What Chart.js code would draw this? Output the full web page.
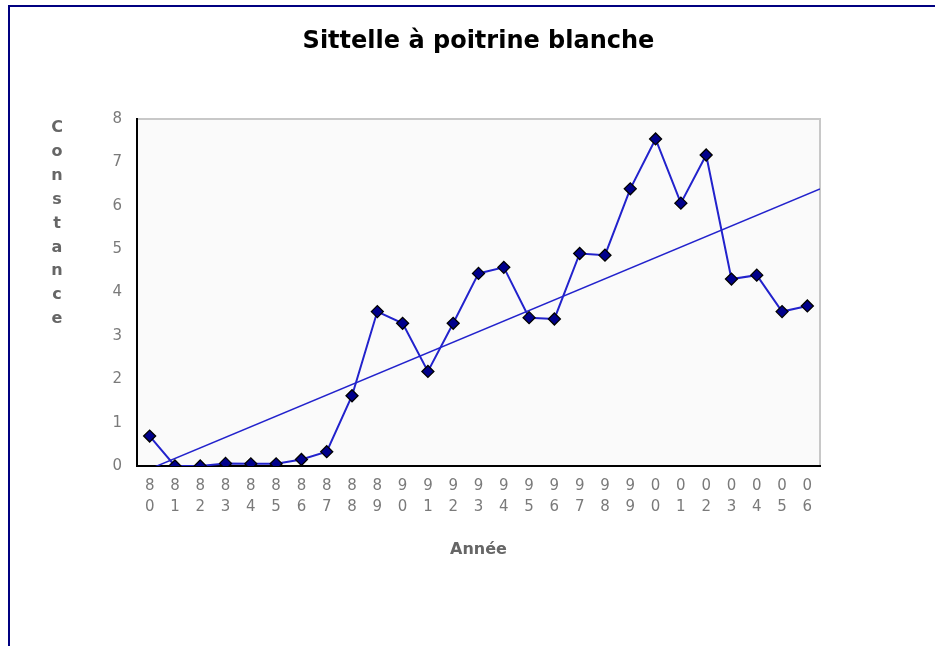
<!DOCTYPE html>
<html>
<head>
<meta charset="utf-8">
<script src="https://cdn.jsdelivr.net/npm/chart.js@4"></script>
<style>
  body { margin: 0; background: #fff; }
  #wrap { position: relative; width: 935px; height: 646px; }
  #frame { position: absolute; left: 8px; top: 5px; right: 0; bottom: 0; border-left: 2px solid #000080; border-top: 2px solid #000080; }
  #chart { position: absolute; left: 0; top: 0; }
</style>
</head>
<body>
<div id="wrap">
  <div id="frame"></div>
  <canvas id="chart" width="935" height="646"></canvas>
</div>
<script>
  // Data
  const years = ["80", "81", "82", "83", "84", "85", "86", "87", "88", "89", "90", "91", "92", "93",
    "94", "95", "96", "97", "98", "99", "00", "01", "02", "03", "04", "05", "06"];
  const constance = [0.69, 0, 0, 0.06, 0.05, 0.05, 0.15, 0.33, 1.62, 3.56, 3.29, 2.18, 3.29, 4.44,
    4.58, 3.42, 3.39, 4.9, 4.86, 6.39, 7.54, 6.06, 7.17, 4.31, 4.4, 3.56, 3.69];
  const trendX = [0, 26.5];
  const trendY = [-0.07, 6.39];
  const yTicks = [0, 1, 2, 3, 4, 5, 6, 7, 8];

  const titleText = "Sittelle à poitrine blanche";
  const yTitle = "Constance";
  const xTitle = "Année";

  const blue = "#2222cc";
  const tickFont = { family: "DejaVu Sans", size: 15, lineHeight: 1.38 };

  // plot background, frame and titles
  const decor = {
    id: "decor",
    beforeDraw(chart) {
      const { ctx, chartArea: a } = chart;
      ctx.save();
      ctx.fillStyle = "#fafafa";
      ctx.fillRect(a.left, a.top, a.right - a.left, a.bottom - a.top);
      ctx.strokeStyle = "#c8c8c8";
      ctx.lineWidth = 2;
      ctx.beginPath();
      ctx.moveTo(a.left, a.top);
      ctx.lineTo(a.right, a.top);
      ctx.lineTo(a.right, a.bottom);
      ctx.stroke();

      const cx = (a.left + a.right) / 2;
      ctx.textAlign = "center";
      ctx.textBaseline = "alphabetic";
      ctx.fillStyle = "#000";
      ctx.font = 'bold 24px "DejaVu Sans"';
      ctx.fillText(titleText, cx, 48);

      ctx.fillStyle = "#666";
      ctx.font = 'bold 16px "DejaVu Sans"';
      [...yTitle].forEach((ch, i) => ctx.fillText(ch, 57, 132 + i * 23.9));
      ctx.fillText(xTitle, cx, 554);
      ctx.restore();
    },
  };

  new Chart(document.getElementById("chart"), {
    type: "line",
    data: {
      labels: years,
      datasets: [
        {
          data: constance,
          borderColor: blue,
          borderWidth: 2,
          pointStyle: "rectRot",
          pointRadius: 6,
          pointBackgroundColor: "#00008b",
          pointBorderColor: "#000",
          pointBorderWidth: 1.3,
          order: 0,
        },
        {
          data: trendX.map((x, i) => ({ x: x, y: trendY[i] })),
          xAxisID: "xt",
          borderColor: blue,
          borderWidth: 1.5,
          pointRadius: 0,
          order: 1,
        },
      ],
    },
    options: {
      responsive: false,
      animation: false,
      layout: { padding: { left: 0, right: 115, top: 119, bottom: 0 } },
      plugins: { legend: { display: false }, tooltip: { enabled: false } },
      scales: {
        x: {
          offset: true,
          grid: { display: false, drawTicks: false },
          border: { color: "#000", width: 2 },
          ticks: {
            color: "#7a7a7a",
            font: tickFont,
            padding: 10,
            autoSkip: false,
            maxRotation: 0,
            callback: (v, i) => years[i].split(""),
          },
          afterFit: (s) => { s.height = 180; },
        },
        xt: { type: "linear", display: false, min: -0.5, max: 26.5 },
        y: {
          min: 0,
          max: 8,
          grid: { display: false, drawTicks: false },
          border: { color: "#000", width: 2 },
          ticks: { color: "#7a7a7a", font: tickFont, padding: 15 },
          afterBuildTicks: (s) => { s.ticks = yTicks.map((v) => ({ value: v })); },
          afterFit: (s) => { s.width = 137; },
        },
      },
    },
    plugins: [decor],
  });
</script>
</body>
</html>
